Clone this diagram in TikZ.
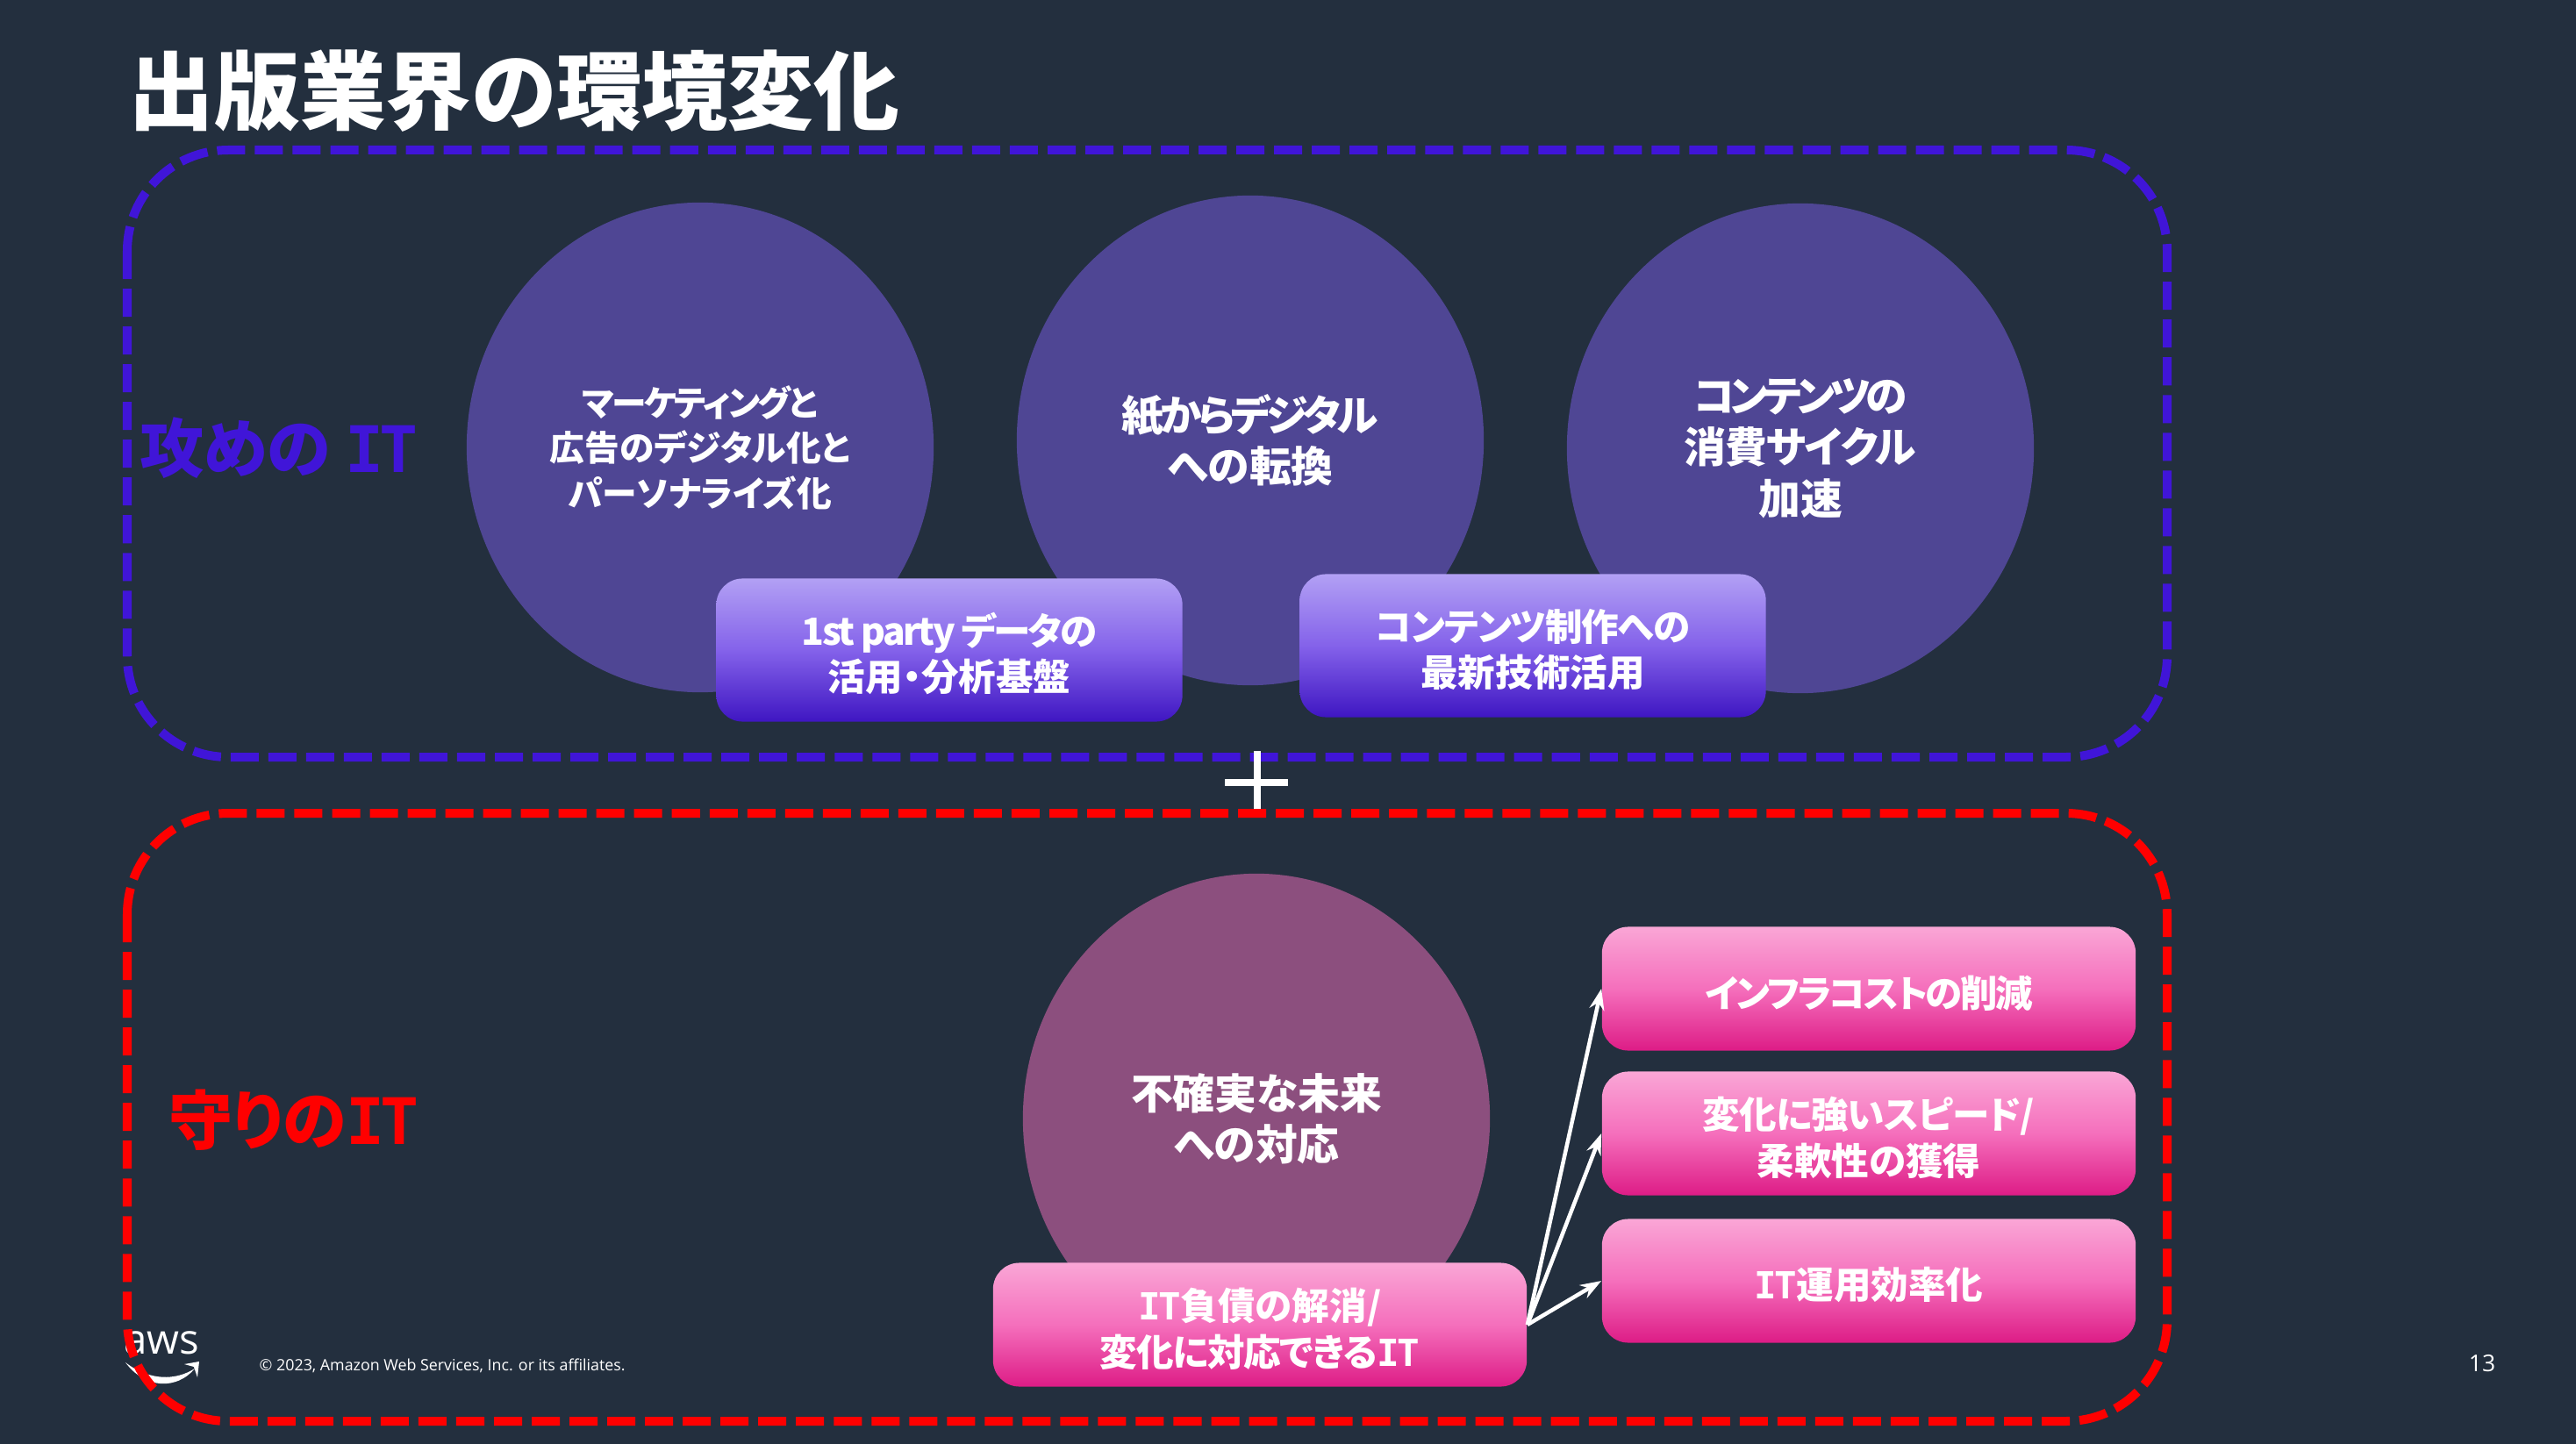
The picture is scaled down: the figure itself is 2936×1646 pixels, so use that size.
\documentclass[tikz,border=0pt]{standalone}
\usepackage{fontspec}
\usepackage{tikz}
\usetikzlibrary{arrows.meta, shapes.geometric}
\setmainfont{Noto Sans CJK JP}[RawFeature=+palt]
\newfontfamily\uifont{Open Sans}
\newfontfamily\slabfont{DejaVu Sans Mono}
\definecolor{cbg}{HTML}{232F3E}
\definecolor{cblue}{HTML}{4015D8}
\definecolor{cred}{HTML}{FF0000}
\definecolor{cplum}{HTML}{4F4694}
\definecolor{cmauve}{HTML}{8C4F7E}
\definecolor{ptop}{HTML}{B2A0F4}
\definecolor{pmid}{HTML}{8462EA}
\definecolor{pbot}{HTML}{3F16C2}
\definecolor{rtop}{HTML}{FAA6D6}
\definecolor{rmid}{HTML}{F56FBC}
\definecolor{rbot}{HTML}{DD1C86}
\newcommand{\slabIT}{{\slabfont\bfseries I\kern-0.07em T}}
\newcommand{\tightkana}[2][-6]{{\addfontfeature{LetterSpace=#1}#2}}
\newcommand{\cardstrut}{\rule{0pt}{13.1pt}}
\tikzset{
  zone/.style={line width=0.1cm, dash pattern=on 0.32cm off 0.11cm, rounded corners=1.15cm},
  bubble/.style={ellipse, inner sep=0pt, minimum width=5.32cm, minimum height=5.58cm, text=white, align=center, font=\fontsize{13.6pt}{16.6pt}\selectfont\bfseries},
  card/.style={rounded corners=0.3cm, inner sep=0pt, text=white, align=center, font=\fontsize{12.1pt}{14.8pt}\selectfont\bfseries},
  violetcard/.style={card, minimum width=5.31cm, minimum height=1.63cm, top color=ptop, bottom color=pbot, middle color=pmid},
  pinkcard/.style={card, minimum width=6.08cm, minimum height=1.41cm, top color=rtop, bottom color=rbot, middle color=rmid},
  zonelabel/.style={font=\fontsize{20.8pt}{24pt}\selectfont\bfseries},
  branch/.style={white, line width=0.045cm, -{Stealth[length=0.24cm, width=0.17cm]}}
}
\begin{document}
\begin{tikzpicture}[x=0.01cm, y=-0.01cm]
  \useasboundingbox (0,0) rectangle (2936,1646);
  \fill[cbg] (0,0) rectangle (2936,1646);

  % Title and footer
  \node[anchor=west, inner sep=0pt, text=white, font=\fontsize{27.8pt}{30pt}\selectfont\bfseries] (title) at (146,104) {出版業界の環境変化};
  \node[inner sep=0pt, text=white, font=\fontsize{13.5pt}{14pt}\selectfont\uifont] (awsword) at (184,1531) {aws};
  \fill[white] (143,1553) .. controls (170,1574) and (200,1574) .. (222,1560) .. controls (202,1584) and (166,1584) .. (143,1553);
  \fill[white] (210,1555) -- (227,1552) -- (225,1570) -- (221,1558) -- cycle;
  \node[anchor=west, inner sep=0pt, text=white, font=\fontsize{5.07pt}{6pt}\selectfont\uifont] (copyright) at (295,1557) {© 2023, Amazon Web Services, Inc. or its affiliates.};
  \node[inner sep=0pt, text=white, font=\fontsize{7.5pt}{9pt}\selectfont\uifont] (pagenum) at (2829,1554) {13};

  % Attack side
  \node[bubble, fill=cplum, font=\fontsize{11.3pt}{14.65pt}\selectfont\bfseries] (marketing) at (798,510) {\tightkana{マーケティングと}\\広告のデジタル化と\\パーソナライズ化};
  \node[bubble, fill=cplum] (paper) at (1425,502) {\tightkana[-9]{紙からデジタル}\\への転換};
  \node[bubble, fill=cplum] (cycle) at (2052,511) {\tightkana[-12]{コンテンツの}\\\tightkana[-3]{消費サイクル}\\加速};
  \node[violetcard] (firstparty) at (1082,741) {\cardstrut\tightkana{1st party データの}\\活用・分析基盤};
  \node[violetcard] (newtech) at (1747,736) {\cardstrut\tightkana[-3]{コンテンツ制作への}\\最新技術活用};
  \draw[zone, cblue] (145,171) rectangle (2470,863);
  \node[zonelabel, text=cblue] (attack) at (318,511) {攻めの \slabIT};

  % Plus sign
  \coordinate (plusn) at (1433,856);
  \coordinate (pluss) at (1433,922);
  \coordinate (plusw) at (1396,892);
  \coordinate (pluse) at (1468,892);
  \draw[white, line width=0.08cm] (plusn) -- (pluss);
  \draw[white, line width=0.08cm] (plusw) -- (pluse);

  % Defence side
  \node[bubble, fill=cmauve] (future) at (1432,1275) {不確実な未来\\への対応};
  \node[pinkcard] (debt) at (1436,1510) {\cardstrut\slabIT 負債の解消/\\\tightkana[-3]{変化に対応できる}\slabIT};
  \node[pinkcard] (infra) at (2130,1127) {\cardstrut\tightkana{インフラコストの削減}};
  \node[pinkcard] (speed) at (2130,1292) {\cardstrut\tightkana[-2]{変化に強いスピード/}\\柔軟性の獲得};
  \node[pinkcard] (ops) at (2130,1460) {\cardstrut\slabIT 運用効率化};
  \foreach \t in {infra,speed,ops}{
    \draw[branch] (debt.east) -- (\t.west);
  }
  \draw[zone, cred] (145,927) rectangle (2470,1620);
  \node[zonelabel, text=cred] (defence) at (335,1277) {守りの\slabIT};
\end{tikzpicture}
\end{document}
